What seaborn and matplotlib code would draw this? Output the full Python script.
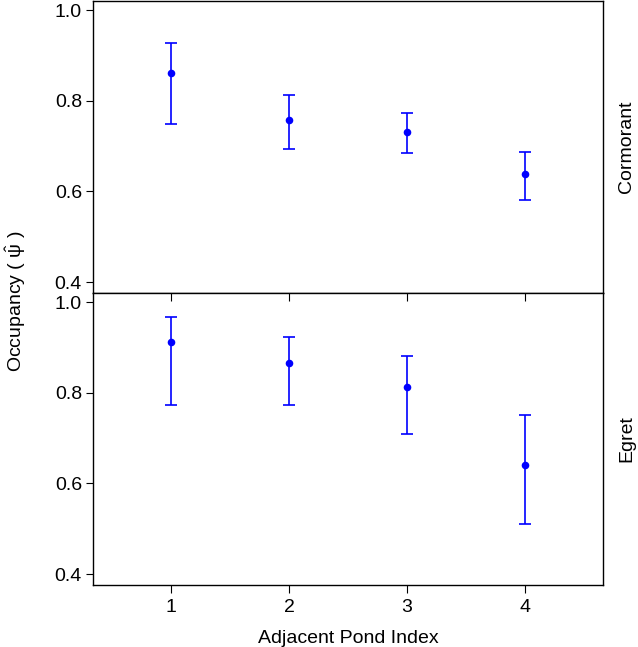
import pandas as pd
import seaborn as sns
import matplotlib.pyplot as plt

# estimates
species = ['Cormorant', 'Egret']
pond_index = [1, 2, 3, 4]
cormorant_est = [0.861, 0.758, 0.732, 0.639]
cormorant_lo = [0.748, 0.693, 0.684, 0.582]
cormorant_hi = [0.927, 0.812, 0.773, 0.688]
egret_est = [0.911, 0.866, 0.812, 0.640]
egret_lo = [0.774, 0.773, 0.708, 0.510]
egret_hi = [0.966, 0.923, 0.882, 0.750]
y_ticks = [0.4, 0.6, 0.8, 1.0]

df = pd.concat([
    pd.DataFrame({'species': 'Cormorant', 'index': pond_index,
                  'est': cormorant_est, 'lo': cormorant_lo, 'hi': cormorant_hi}),
    pd.DataFrame({'species': 'Egret', 'index': pond_index,
                  'est': egret_est, 'lo': egret_lo, 'hi': egret_hi}),
])

sns.set_theme(style='white')
plt.rcParams['font.family'] = ['Liberation Sans', 'DejaVu Sans']
plt.rcParams['text.color'] = 'black'
plt.rcParams['axes.labelcolor'] = 'black'
plt.rcParams['mathtext.fontset'] = 'custom'
plt.rcParams['mathtext.rm'] = 'Liberation Sans'
plt.rcParams['mathtext.it'] = 'Liberation Sans'

fs = 14
fig = plt.figure(figsize=(6.38, 6.47), dpi=100)
left, right = 93 / 638, 603 / 638
top_y, mid_y, bot_y = 1 - 1 / 647, 1 - 293 / 647, 1 - 585 / 647
ax_top = fig.add_axes([left, mid_y, right - left, top_y - mid_y])
ax_bot = fig.add_axes([left, bot_y, right - left, mid_y - bot_y], sharex=ax_top)

blue = '#0000FF'
for ax, sp in zip([ax_top, ax_bot], species):
    d = df[df['species'] == sp]
    ax.errorbar(d['index'], d['est'],
                yerr=[d['est'] - d['lo'], d['hi'] - d['est']],
                fmt='none', ecolor=blue, elinewidth=1.2, capsize=4.4, capthick=1.2)
    sns.scatterplot(data=d, x='index', y='est', ax=ax, color=blue,
                    s=30, edgecolor=blue, linewidth=0, zorder=3)
    ax.set_ylim(0.376, 1.02)
    ax.set_yticks(y_ticks)
    ax.set_yticklabels([f'{v:.1f}' for v in y_ticks])
    ax.set_xlabel('')
    ax.set_ylabel('')
    for s in ax.spines.values():
        s.set_color('black')
        s.set_linewidth(1.0)
    ax.tick_params(axis='y', left=True, direction='out', length=5, width=0.8,
                   labelsize=fs, colors='black', pad=3)
    ax.text(1.047, 0.5, sp, transform=ax.transAxes, rotation=90,
            ha='center', va='center', fontsize=fs)

ax_top.set_xlim(0.34, 4.66)
ax_top.tick_params(axis='x', bottom=False, labelbottom=False)
ax_bot.set_xticks(pond_index)
ax_bot.tick_params(axis='x', bottom=True, top=True, labeltop=False,
                   direction='out', length=6, width=0.8, labelsize=fs,
                   colors='black', pad=4)
for t in ax_bot.xaxis.get_major_ticks():
    t.tick2line.set_marker(3)  # inward tick at the top edge
    t.tick2line.set_markersize(6)
ax_bot.set_xlabel('Adjacent Pond Index', fontsize=fs, labelpad=10)

fig.text(0.025, 0.535, r'Occupancy ( $\hat{\psi}$ )', rotation=90,
         ha='center', va='center', fontsize=fs)

fig.savefig('out.png', dpi=100)
